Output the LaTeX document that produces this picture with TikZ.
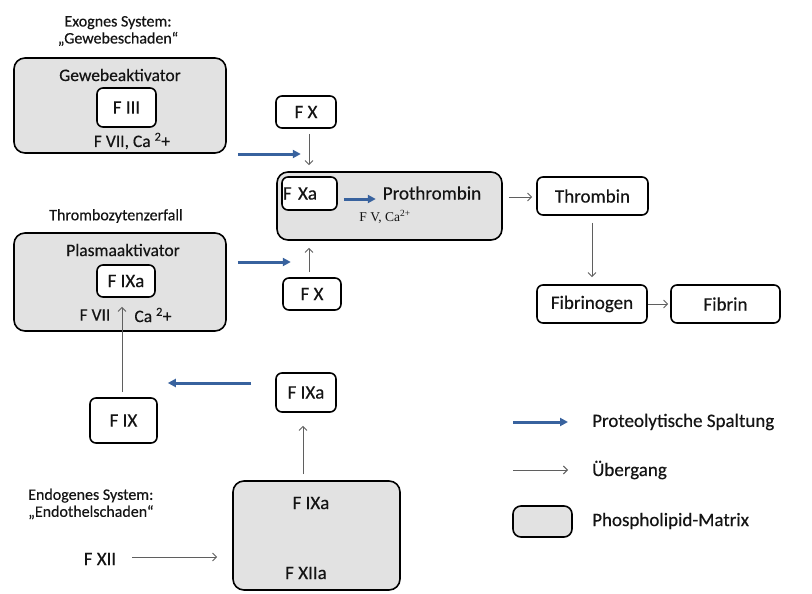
\documentclass[tikz,border=0pt]{standalone}
\usepackage{fontspec}
\setmainfont{Carlito}[FakeBold=0.35]
\newfontfamily\serifA{Liberation Serif}
\usetikzlibrary{arrows.meta,calc}
\definecolor{matgray}{RGB}{226,226,226}
\definecolor{blueA}{RGB}{56,98,158}
\definecolor{txt}{RGB}{20,20,20}
\definecolor{thin}{RGB}{95,95,95}
\newcommand{\fsL}{\fontsize{19}{22}\selectfont}
\newcommand{\fsM}{\fontsize{17.5}{20}\selectfont}
\newcommand{\fsS}{\fontsize{16}{19}\selectfont}
\begin{document}
\begin{tikzpicture}[x=1pt,y=-1pt,
  matbox/.style={draw=black,line width=1.6pt,rounded corners=11pt,fill=matgray,inner sep=0pt},
  fbox/.style={draw=black,line width=1.6pt,rounded corners=6pt,fill=white,inner sep=0pt,text=txt,font=\fsL},
  lbl/.style={text=txt,inner sep=0pt},
  prot/.style={-{Triangle[length=8pt,width=8pt]},line width=3pt,draw=blueA},
  trans/.style={-{Straight Barb[length=4pt,width=8pt]},line width=0.9pt,draw=thin},
]
\useasboundingbox (0,0) rectangle (812,594);
\fill[white] (0,0) rectangle (812,594);

% top-left: exogenous
\node[lbl,font=\fsS,align=center] (exo) at (118,31) {Exognes System:\\[-2pt]„Gewebeschaden“};
\node[matbox,minimum width=212pt,minimum height=95pt] (gew) at (120,105.5) {};
\node[lbl,font=\fsM] (gewt) at (120,75) {Gewebeaktivator};
\node[fbox,minimum width=59pt,minimum height=39pt] (fiii) at (126.5,107.5) {F III};
\node[lbl,font=\fsM] (gewc) at (132,141) {F VII, Ca \textsuperscript{2}+};

% plasma activator
\node[lbl,font=\fsS] (thz) at (116,216) {Thrombozytenzerfall};
\node[matbox,minimum width=212pt,minimum height=98pt] (plasma) at (120,282) {};
\node[lbl,font=\fsM] (plt) at (123,250) {Plasmaaktivator};
\node[fbox,minimum width=58pt,minimum height=32pt] (fixa1) at (126,281) {F IXa};
\node[lbl,font=\fsM] (fvii2) at (95,315) {F VII};
\node[lbl,font=\fsM] (ca2) at (153,315) {Ca \textsuperscript{2}+};

% F X and prothrombin complex
\node[fbox,minimum width=60pt,minimum height=32pt] (fx1) at (306,112) {F X};
\node[matbox,minimum width=225pt,minimum height=68pt] (prog) at (389.5,206) {};
\node[fbox,minimum width=55pt,minimum height=33pt,align=left,text width=53pt] (fxa) at (309.5,193.5) {F Xa};
\node[lbl,font=\fsL] (proth) at (432,193) {Prothrombin};
\node[lbl,font=\serifA\fontsize{13.5}{15}\selectfont] (fv) at (385,217) {F V, Ca\textsuperscript{2+}};
\node[fbox,minimum width=58pt,minimum height=32pt] (fx2) at (312,294) {F X};

% right chain
\node[fbox,minimum width=111pt,minimum height=38pt] (thr) at (592.5,196) {Thrombin};
\node[fbox,minimum width=110pt,minimum height=38pt] (fbg) at (592,304) {Fibrinogen};
\node[fbox,minimum width=109pt,minimum height=38pt] (fbn) at (725.5,304) {Fibrin};

% lower part
\node[fbox,minimum width=67pt,minimum height=45pt] (fix) at (123.5,420.5) {F IX};
\node[fbox,minimum width=60pt,minimum height=39pt] (fixa2) at (306,392.5) {F IXa};
\node[matbox,minimum width=167pt,minimum height=109pt] (grp) at (316.5,535.5) {};
\node[lbl,font=\fsL] (gfixa) at (311,503) {F IXa};
\node[lbl,font=\fsL] (gfxiia) at (306,573) {F XIIa};
\node[lbl,font=\fsS,align=left,anchor=west] (endo) at (28,504) {Endogenes System:\\[-2pt]„Endothelschaden“};
\node[lbl,font=\fsL] (fxii) at (100,559) {F XII};

% legend
\coordinate (l1a) at (513,422); \coordinate (l1b) at (568,422);
\coordinate (l2a) at (513,470); \coordinate (l2b) at (568,470);
\node[matbox,rounded corners=8pt,minimum width=59pt,minimum height=31pt] (legbox) at (542.5,521.5) {};
\node[lbl,font=\fsL,anchor=west] (leg1) at (592,422) {Proteolytische Spaltung};
\node[lbl,font=\fsL,anchor=west] (leg2) at (592,470) {Übergang};
\node[lbl,font=\fsL,anchor=west] (leg3) at (592,521) {Phospholipid-Matrix};
\draw[prot] (l1a) -- (l1b);
\draw[trans] (l2a) -- (l2b);

% blue arrows (proteolytic cleavage)
\draw[prot] ($(gew.east)+(11,48.5)$) -- ($(gew.east)+(74,48.5)$);
\draw[prot] ($(plasma.east)+(11,-20)$) -- ($(plasma.east)+(64,-20)$);
\draw[prot] ($(fxa.east)+(6,5.5)$) -- ++(32,0);
\draw[prot] ($(fixa2.west)+(-24,-9.5)$) -- ($(fix.east)+(10,-37.5)$);

% thin arrows (transition)
\draw[trans] ($(fx1.south)+(3,5)$) -- ($(fx1.south |- prog.north)+(3,-6)$);
\draw[trans] ($(fx2.north)+(-3,-5)$) -- ($(fx2.north |- prog.south)+(-3,7)$);
\draw[trans] ($(thr.west -| prog.east)+(6,1)$) -- ($(thr.west)+(-4,1)$);
\draw[trans] ($(thr.south)+(-0.5,7)$) -- ($(fbg.north)+(0,-7)$);
\draw[trans] (fbg.east) -- ($(fbn.west)+(-2,0)$);
\draw[trans] ($(fix.north)+(-1.5,-5)$) -- ($(fixa1.south)+(-4,9)$);
\draw[trans] ($(fixa2.south |- grp.north)+(-3,-6)$) -- ($(fixa2.south)+(-3,13)$);
\draw[trans] ($(fxii.east)+(16,-2)$) -- ($(grp.west |- fxii.east)+(-15,-2)$);
\end{tikzpicture}
\end{document}
